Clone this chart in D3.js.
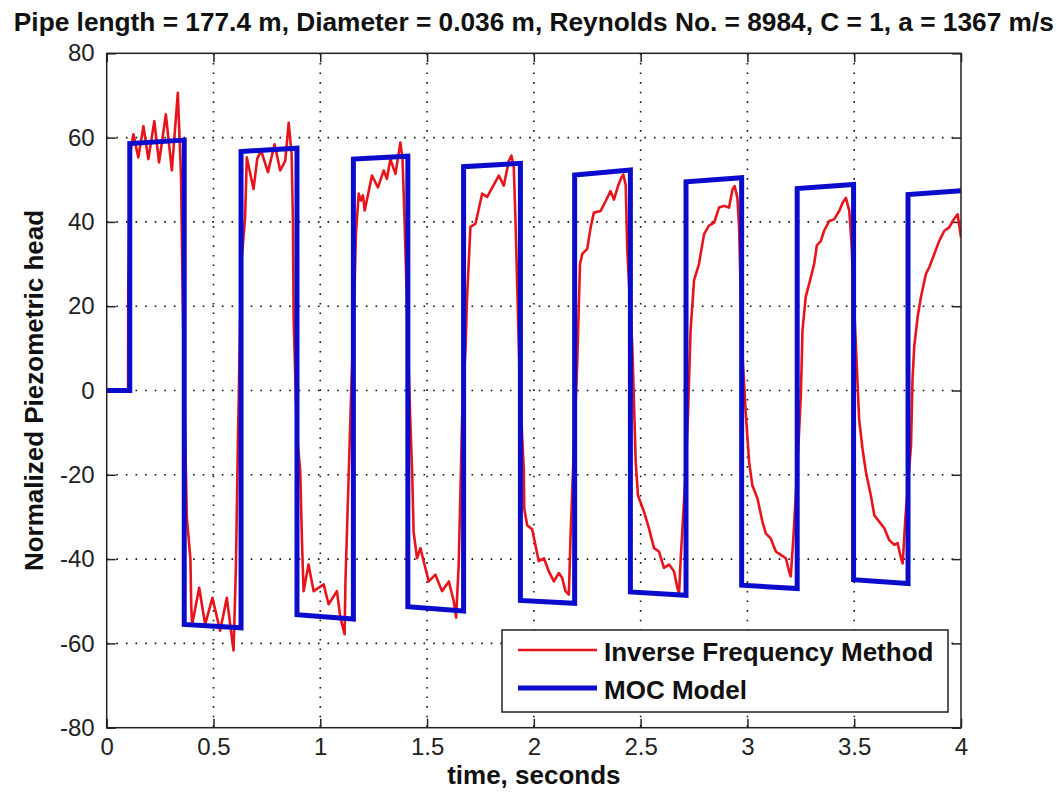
<!DOCTYPE html>
<html>
<head>
<meta charset="utf-8">
<script src="https://cdn.jsdelivr.net/npm/d3@7"></script>
<style>
  body { margin: 0; background: #fff; }
  text { font-family: "Liberation Sans", Arial, sans-serif; }
</style>
</head>
<body>
<div id="main"></div>
<script>
// values
const xTicks = [0, 0.5, 1, 1.5, 2, 2.5, 3, 3.5, 4];
const yTicks = [-80, -60, -40, -20, 0, 20, 40, 60, 80];

// MOC model (blue)
const mocTime = [0, 0.108, 0.108, 0.363, 0.363, 0.629, 0.629, 0.891, 0.891, 1.155, 1.155, 1.41, 1.41, 1.671, 1.671, 1.937,
  1.937, 2.191, 2.191, 2.452, 2.452, 2.7125, 2.7125, 2.973, 2.973, 3.233, 3.233, 3.497, 3.497, 3.752, 3.752, 4];
const mocHead = [0, 0, 58.6, 59.4, -55.5, -56.3, 56.7, 57.5, -53.2, -54.2, 54.9, 55.6, -51.3, -52.3, 53.1, 53.9,
  -49.8, -50.5, 51.1, 52.3, -47.8, -48.6, 49.5, 50.5, -46.2, -47, 47.9, 48.9, -44.9, -45.8, 46.5, 47.4];

// Inverse Frequency Method (red)
const ifmTime = [0, 0.1, 0.101, 0.104, 0.108, 0.112, 0.125, 0.148, 0.172, 0.195, 0.223, 0.245, 0.277, 0.305, 0.333, 0.348,
  0.355, 0.362, 0.365, 0.375, 0.392, 0.396, 0.4, 0.433, 0.461, 0.495, 0.531, 0.5625, 0.594, 0.605, 0.615, 0.63,
  0.648, 0.656, 0.6875, 0.705, 0.723, 0.755, 0.786, 0.8125, 0.836, 0.852, 0.866, 0.872, 0.875, 0.89, 0.906, 0.915,
  0.922, 0.945, 0.969, 1.016, 1.039, 1.078, 1.094, 1.114, 1.118, 1.125, 1.145, 1.16, 1.167, 1.18, 1.19, 1.2,
  1.208, 1.242, 1.27, 1.297, 1.312, 1.328, 1.352, 1.375, 1.385, 1.39, 1.4, 1.42, 1.43, 1.437, 1.453, 1.469,
  1.484, 1.508, 1.539, 1.57, 1.602, 1.625, 1.636, 1.648, 1.665, 1.68, 1.687, 1.703, 1.727, 1.758, 1.781, 1.836,
  1.859, 1.883, 1.895, 1.906, 1.914, 1.935, 1.953, 1.955, 1.969, 1.992, 2.023, 2.047, 2.07, 2.094, 2.117, 2.133,
  2.148, 2.164, 2.172, 2.19, 2.203, 2.216, 2.227, 2.25, 2.266, 2.281, 2.3125, 2.336, 2.359, 2.375, 2.394, 2.409,
  2.419, 2.43, 2.4375, 2.461, 2.477, 2.4875, 2.516, 2.539, 2.5625, 2.586, 2.609, 2.633, 2.656, 2.672, 2.68, 2.6875,
  2.71, 2.722, 2.734, 2.75, 2.773, 2.797, 2.82, 2.844, 2.867, 2.89, 2.914, 2.93, 2.94, 2.953, 2.961, 2.975,
  2.992, 3.008, 3.023, 3.047, 3.07, 3.086, 3.109, 3.133, 3.156, 3.18, 3.195, 3.203, 3.215, 3.235, 3.25, 3.258,
  3.273, 3.289, 3.3125, 3.325, 3.344, 3.359, 3.383, 3.406, 3.43, 3.445, 3.461, 3.477, 3.4875, 3.5, 3.508, 3.523,
  3.539, 3.555, 3.578, 3.594, 3.617, 3.641, 3.664, 3.6875, 3.703, 3.719, 3.727, 3.74, 3.755, 3.766, 3.773, 3.781,
  3.797, 3.8125, 3.836, 3.852, 3.875, 3.898, 3.922, 3.945, 3.961, 3.984, 4];
const ifmHead = [0, 0, 24.7, 32, 45, 57, 60.8, 55.3, 62.7, 54.9, 63.9, 54.1, 65.5, 52.2, 70.6, 50.6,
  25.5, 2.6, -3.7, -30, -40, -51.5, -55.5, -46.8, -55.5, -49.2, -57, -49.2, -61.7, -42, -10, 30,
  41, 55.3, 47.8, 55, 56.9, 51.8, 58.4, 52.2, 54.5, 63.5, 56, 40, 17.6, -10, -19, -37,
  -47.6, -41.3, -47.6, -46, -50.7, -47.6, -53.9, -57.8, -45, -33.5, 0, 23, 37.3, 46.7, 45.1, 46.3,
  42.7, 51, 48.2, 52.2, 50.2, 54.9, 51.4, 58.8, 55, 47.5, 31, -5, -19, -33.5, -39.8, -37.4,
  -40.5, -45.3, -43.7, -47.6, -45.3, -50, -53.9, -41.5, -5, 10, 21.6, 38.8, 39.6, 46.7, 45.9, 51,
  48.6, 54.5, 55.7, 53, 40.4, 0, -19, -28, -32, -32.9, -40.5, -39.8, -42.9, -45.3, -43.3, -44.5,
  -47.6, -48.4, -34.3, -10, 6.5, 30, 32.4, 33.6, 38.7, 42.2, 42.6, 44.9, 47.3, 45.3, 48.5, 50.4,
  51.2, 48.8, 33.2, 10.4, -17, -24.9, -28.8, -32.7, -37.4, -38.2, -42.1, -41.3, -42.9, -46.8, -48, -40,
  -20, -5.3, 14.4, 26.1, 30, 37.1, 39.1, 39.8, 43.4, 43.8, 43.4, 47.7, 48.5, 45.7, 38.7, 10,
  -5.3, -17, -22.5, -25.6, -31.1, -33.9, -35.1, -38.2, -39, -39.8, -42.9, -44.1, -35, -17, -1.3, 14.4,
  22.2, 25.3, 30, 34.4, 35.5, 37.9, 40.2, 40.6, 42.6, 44.5, 45.7, 42.6, 34.7, 20, 10.4, -6.8,
  -13.9, -19.4, -24.9, -29.6, -31.1, -32.7, -35.5, -36.6, -36.2, -39.8, -41, -30, -20, -13.1, 2.6, 10.4,
  17.5, 22.2, 27.7, 29.3, 32.4, 35.5, 37.9, 38.7, 40.2, 41.8, 36.3];

const titleText = 'Pipe length = 177.4 m, Diameter = 0.036 m, Reynolds No. = 8984, C = 1, a = 1367 m/s';
const seriesNames = ['Inverse Frequency Method', 'MOC Model'];

const w = 1060, h = 798;
const plotL = 106.7, plotR = 961, plotT = 53.3, plotB = 727.7;
const tickLen = 9;
const red = '#e8141b', blue = '#0b0bcc';

const svg = d3.select('#main')
  .append('svg')
  .attr('width', w)
  .attr('height', h);

svg.append('rect').attr('width', w).attr('height', h).attr('fill', '#fff');

const xScale = d3.scaleLinear().domain([0, 4]).range([plotL, plotR]);
const yScale = d3.scaleLinear().domain([-80, 80]).range([plotB, plotT]);

// dotted grid
const grid = svg.append('g')
  .attr('stroke', '#111')
  .attr('stroke-width', 1.6)
  .attr('stroke-dasharray', '1.6,8');

grid.selectAll('.gx')
  .data(xTicks.slice(1, -1))
  .enter()
  .append('line')
  .attr('x1', d => xScale(d)).attr('x2', d => xScale(d))
  .attr('y1', plotT).attr('y2', plotB);

grid.selectAll('.gy')
  .data(yTicks.slice(1, -1))
  .enter()
  .append('line')
  .attr('x1', plotL).attr('x2', plotR)
  .attr('y1', d => yScale(d)).attr('y2', d => yScale(d));

// axes, ticks pointing inward on all four sides
const fmt = d => String(d);
const styleAxis = g => {
  g.select('.domain').remove();
  g.selectAll('line').attr('stroke', '#222').attr('stroke-width', 1.5);
  g.selectAll('text')
    .attr('fill', '#222')
    .attr('font-family', '"Liberation Sans", Arial, sans-serif')
    .attr('font-size', 24);
};

svg.append('g')
  .attr('transform', 'translate(0,' + plotB + ')')
  .call(d3.axisBottom(xScale).tickValues(xTicks).tickFormat(fmt).tickSize(-tickLen).tickSizeOuter(0).tickPadding(10))
  .call(styleAxis);

svg.append('g')
  .attr('transform', 'translate(0,' + plotT + ')')
  .call(d3.axisTop(xScale).tickValues(xTicks).tickFormat('').tickSize(-tickLen).tickSizeOuter(0))
  .call(styleAxis);

svg.append('g')
  .attr('transform', 'translate(' + plotL + ',0)')
  .call(d3.axisLeft(yScale).tickValues(yTicks).tickFormat(fmt).tickSize(-tickLen).tickSizeOuter(0).tickPadding(12))
  .call(styleAxis);

svg.append('g')
  .attr('transform', 'translate(' + plotR + ',0)')
  .call(d3.axisRight(yScale).tickValues(yTicks).tickFormat('').tickSize(-tickLen).tickSizeOuter(0))
  .call(styleAxis);

// lines
svg.append('clipPath').attr('id', 'plotclip')
  .append('rect')
  .attr('x', plotL).attr('y', plotT)
  .attr('width', plotR - plotL).attr('height', plotB - plotT);

const line = d3.line()
  .x(d => xScale(d[0]))
  .y(d => yScale(d[1]));

svg.append('path')
  .datum(ifmTime.map((t, i) => [t, ifmHead[i]]))
  .attr('d', line)
  .attr('fill', 'none')
  .attr('stroke', red)
  .attr('stroke-width', 2.6)
  .attr('stroke-linejoin', 'round')
  .attr('clip-path', 'url(#plotclip)');

svg.append('path')
  .datum(mocTime.map((t, i) => [t, mocHead[i]]))
  .attr('d', line)
  .attr('fill', 'none')
  .attr('stroke', blue)
  .attr('stroke-width', 5)
  .attr('stroke-linejoin', 'miter')
  .attr('clip-path', 'url(#plotclip)');

// frame
svg.append('rect')
  .attr('x', plotL).attr('y', plotT)
  .attr('width', plotR - plotL).attr('height', plotB - plotT)
  .attr('fill', 'none')
  .attr('stroke', '#222')
  .attr('stroke-width', 1.5);

// legend
const legend = svg.append('g');
legend.append('rect')
  .attr('x', 502).attr('y', 630)
  .attr('width', 446).attr('height', 82)
  .attr('fill', '#fff')
  .attr('stroke', '#222')
  .attr('stroke-width', 1.5);

const legendRows = [
  {name: seriesNames[0], color: red, width: 2.6, y: 650},
  {name: seriesNames[1], color: blue, width: 5, y: 688}
];
legend.selectAll('.row')
  .data(legendRows)
  .enter()
  .append('line')
  .attr('x1', 518).attr('x2', 597)
  .attr('y1', d => d.y).attr('y2', d => d.y)
  .attr('stroke', d => d.color)
  .attr('stroke-width', d => d.width);

legend.selectAll('.label')
  .data(legendRows)
  .enter()
  .append('text')
  .text(d => d.name)
  .attr('x', 604)
  .attr('y', d => d.y + 11)
  .attr('font-size', 26)
  .attr('font-weight', 'bold')
  .attr('fill', '#111');

// title and axis labels
svg.append('text')
  .text(titleText)
  .attr('x', (plotL + plotR) / 2)
  .attr('y', 31)
  .attr('text-anchor', 'middle')
  .attr('font-size', 26)
  .attr('font-weight', 'bold')
  .attr('textLength', 1040)
  .attr('lengthAdjust', 'spacingAndGlyphs')
  .attr('fill', '#111');

svg.append('text')
  .text('time, seconds')
  .attr('x', (plotL + plotR) / 2)
  .attr('y', 784)
  .attr('text-anchor', 'middle')
  .attr('font-size', 26)
  .attr('font-weight', 'bold')
  .attr('fill', '#111');

svg.append('text')
  .text('Normalized Piezometric head')
  .attr('transform', 'translate(43,' + ((plotT + plotB) / 2) + ') rotate(-90)')
  .attr('text-anchor', 'middle')
  .attr('font-size', 26)
  .attr('font-weight', 'bold')
  .attr('fill', '#111');
</script>
</body>
</html>
